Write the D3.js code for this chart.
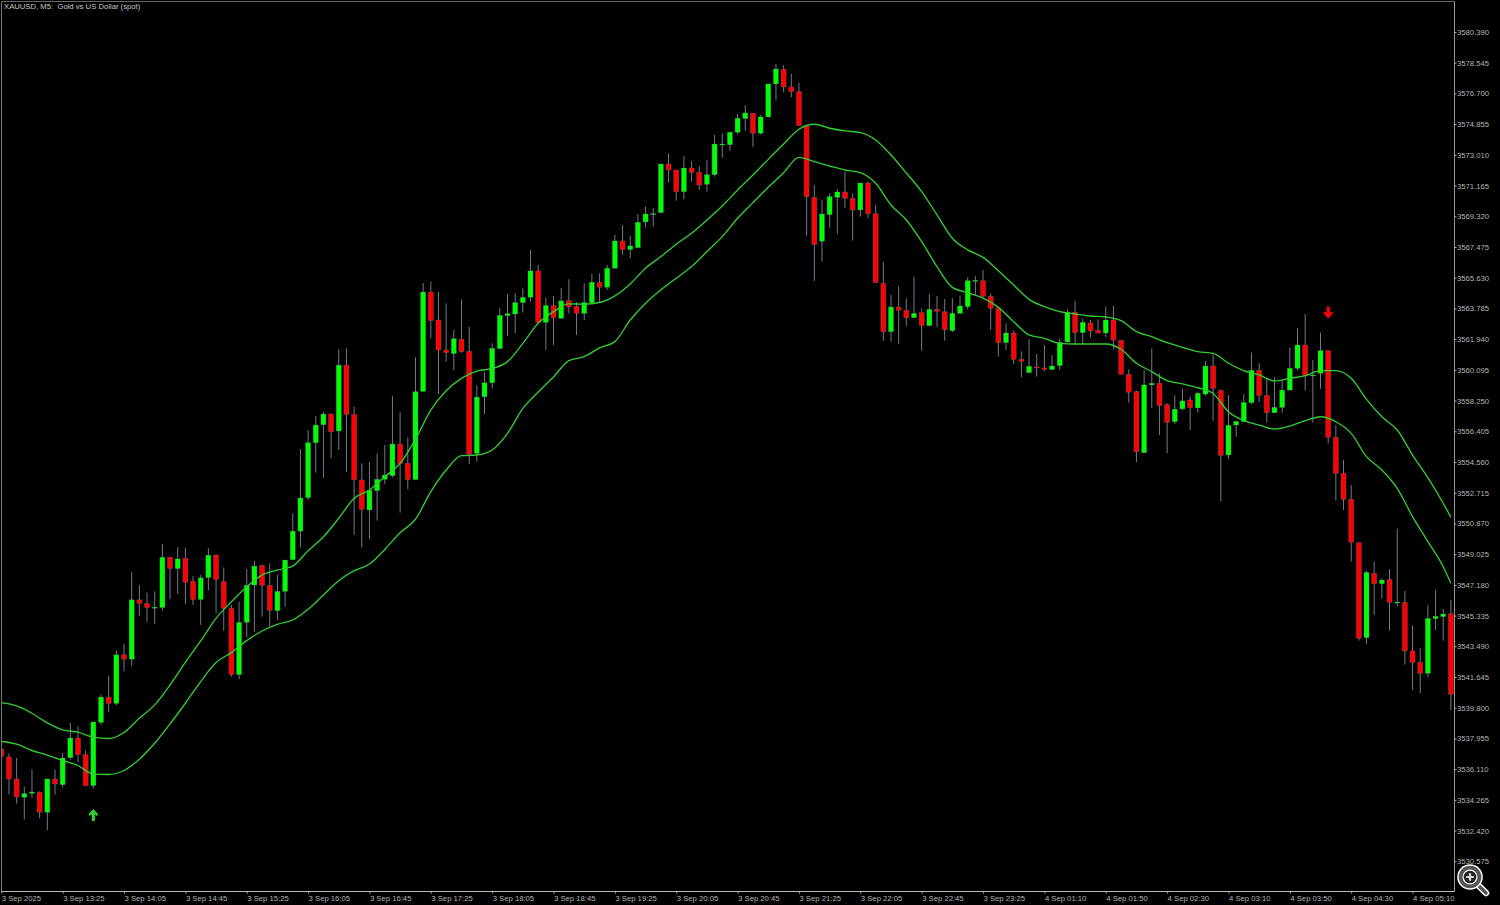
<!DOCTYPE html>
<html>
<head>
<meta charset="utf-8">
<title>XAUUSD M5</title>
<script src="https://cdn.jsdelivr.net/npm/d3@7"></script>
<style>
    html, body { margin: 0; padding: 0; background: #000; overflow: hidden; }
    text { font-family: "Liberation Sans", Arial, sans-serif; font-size: 7.7px; fill: #b4b4b4; white-space: pre; }
    .axis path { display: none; }
    .axis line { stroke: #b0b0b0; }
    .ma { fill: none; stroke: #32cd32; stroke-width: 1.35; }
</style>
</head>
<body>
<div id="chart"></div>
<script>
const chartTitle = "XAUUSD, M5:  Gold vs US Dollar (spot)";

// prices, one entry per 5 minute bar
const opens = [
    3537.32,3536.84,3535.52,3534.42,3534.66,3534.72,3533.52,3535.52,3535.18,3536.80,
    3537.98,3536.98,3535.12,3538.92,3540.44,3540.06,3542.98,3542.72,3546.28,3546.06,
    3545.82,3545.82,3548.84,3548.16,3548.78,3547.40,3546.30,3547.62,3548.97,3547.37,
    3545.77,3541.79,3544.93,3547.17,3548.35,3547.15,3545.63,3546.79,3548.69,3550.41,
    3552.42,3555.72,3556.80,3557.44,3556.42,3560.38,3557.42,3553.48,3551.68,3552.84,
    3553.52,3553.74,3555.64,3554.48,3553.50,3558.80,3564.77,3563.09,3561.29,3561.07,
    3561.93,3561.21,3555.08,3558.48,3559.32,3561.37,3563.35,3563.45,3564.13,3564.46,
    3566.04,3562.95,3563.96,3563.19,3564.26,3563.90,3563.49,3564.12,3565.34,3565.06,
    3566.20,3567.84,3567.32,3567.44,3568.98,3569.46,3569.54,3572.46,3572.10,3570.80,
    3572.22,3571.96,3571.24,3571.82,3573.64,3573.62,3574.37,3575.19,3575.51,3574.31,
    3575.29,3577.27,3578.15,3577.09,3576.81,3574.77,3570.46,3567.82,3569.42,3570.46,
    3570.78,3570.40,3569.70,3571.32,3569.48,3565.29,3562.39,3563.87,3563.67,3563.23,
    3563.53,3562.75,3563.73,3563.59,3562.45,3563.49,3563.89,3565.45,3565.45,3564.51,
    3563.79,3561.73,3562.31,3560.73,3559.93,3560.27,3560.21,3560.11,3560.35,3561.77,
    3563.55,3562.33,3562.91,3562.47,3562.31,3563.09,3561.87,3559.83,3558.79,3555.12,
    3559.19,3559.29,3558.01,3556.98,3557.75,3558.29,3557.81,3558.64,3560.33,3558.86,
    3554.98,3556.78,3556.98,3558.12,3560.07,3558.56,3557.52,3557.84,3558.88,3560.19,
    3561.59,3559.77,3559.89,3561.25,3556.04,3553.88,3552.32,3549.72,3544.01,3547.87,
    3547.25,3547.51,3546.13,3546.13,3543.21,3542.53,3541.87,3545.15,3545.27,3545.45
];
const highs = [
    3537.38,3537.04,3536.78,3535.06,3536.08,3534.78,3535.52,3536.08,3537.08,3538.90,
    3538.68,3537.24,3538.98,3540.58,3541.72,3543.24,3543.64,3547.94,3547.18,3546.72,
    3546.80,3549.64,3548.84,3549.44,3549.40,3547.72,3547.78,3549.38,3549.03,3548.23,
    3545.97,3546.17,3548.13,3548.61,3548.35,3548.47,3547.77,3548.67,3551.48,3555.34,
    3556.48,3557.32,3557.58,3557.48,3561.33,3561.39,3557.88,3554.48,3554.56,3555.08,
    3555.58,3558.52,3557.56,3556.04,3560.85,3565.30,3565.40,3564.77,3564.09,3562.49,
    3564.33,3562.69,3559.16,3559.98,3561.69,3563.79,3564.65,3564.69,3564.99,3567.30,
    3566.40,3564.42,3564.54,3565.00,3565.54,3564.16,3565.30,3565.86,3565.90,3566.40,
    3568.20,3568.80,3568.16,3569.46,3569.90,3569.80,3572.46,3573.10,3572.10,3572.92,
    3572.64,3572.32,3572.70,3574.21,3574.31,3574.37,3575.47,3575.99,3575.51,3575.41,
    3577.27,3578.47,3578.41,3577.87,3577.35,3574.77,3571.20,3570.30,3570.70,3570.94,
    3572.00,3570.70,3571.32,3571.40,3570.00,3566.57,3564.59,3565.13,3564.39,3565.69,
    3563.79,3564.65,3564.53,3564.35,3564.41,3564.53,3565.65,3565.73,3566.09,3564.69,
    3563.85,3562.89,3562.45,3561.21,3561.95,3561.05,3561.59,3560.97,3561.99,3563.73,
    3564.25,3563.19,3563.09,3563.13,3563.89,3563.93,3561.87,3560.13,3558.85,3560.09,
    3561.39,3559.89,3558.09,3558.57,3558.95,3558.49,3558.79,3560.63,3560.99,3558.92,
    3558.58,3557.04,3558.64,3561.13,3560.49,3559.55,3559.65,3559.49,3561.43,3562.59,
    3563.45,3560.69,3562.33,3561.25,3556.78,3554.68,3553.18,3549.72,3548.03,3548.57,
    3547.57,3548.13,3550.56,3546.81,3544.75,3543.37,3545.97,3546.87,3545.73,3546.27
];
const lows = [
    3536.82,3534.58,3534.04,3533.08,3534.40,3533.16,3532.44,3534.58,3535.02,3536.68,
    3536.54,3535.12,3534.96,3538.78,3539.52,3539.96,3541.98,3542.32,3545.32,3544.96,
    3544.84,3545.64,3546.32,3546.64,3546.04,3545.98,3544.78,3546.84,3545.47,3544.43,
    3541.67,3541.51,3544.01,3544.35,3545.27,3544.67,3545.07,3545.87,3548.69,3549.43,
    3552.28,3553.92,3553.60,3554.78,3555.28,3553.96,3550.17,3549.43,3549.93,3551.04,
    3553.24,3553.64,3551.52,3552.92,3553.50,3558.80,3561.99,3558.64,3560.59,3560.08,
    3561.13,3554.44,3554.58,3557.44,3558.98,3561.37,3562.13,3562.29,3563.53,3564.20,
    3562.93,3561.29,3561.59,3563.19,3563.49,3562.19,3563.09,3564.10,3564.14,3564.90,
    3566.20,3567.00,3566.80,3567.40,3568.64,3568.70,3569.54,3571.34,3570.26,3570.34,
    3571.40,3570.90,3570.80,3571.70,3572.84,3573.26,3574.25,3574.45,3573.50,3574.23,
    3575.29,3576.27,3576.75,3576.47,3574.77,3568.16,3565.44,3566.60,3568.64,3568.26,
    3569.80,3567.86,3569.30,3569.20,3565.33,3561.85,3561.79,3561.65,3562.73,3563.23,
    3561.25,3562.75,3562.65,3561.85,3562.37,3563.49,3563.73,3564.59,3564.45,3562.49,
    3560.89,3561.29,3560.45,3559.65,3559.93,3559.69,3560.03,3560.09,3560.09,3561.77,
    3561.59,3561.65,3562.03,3562.29,3562.05,3561.33,3559.83,3558.13,3554.56,3555.12,
    3557.81,3556.18,3555.08,3556.84,3557.69,3556.48,3557.53,3558.54,3557.04,3552.18,
    3554.74,3556.08,3556.98,3558.04,3558.16,3556.92,3557.52,3557.52,3558.88,3560.05,
    3558.84,3556.92,3558.96,3555.68,3552.24,3551.68,3548.57,3543.83,3543.65,3545.37,
    3546.35,3544.43,3545.87,3542.39,3540.87,3540.67,3541.63,3544.47,3543.83,3539.67
];
const closes = [
    3536.88,3535.52,3534.44,3534.64,3534.74,3533.52,3535.52,3535.22,3536.78,3537.98,
    3536.98,3535.12,3538.94,3540.44,3540.06,3542.98,3542.72,3546.28,3546.06,3545.82,
    3545.84,3548.84,3548.16,3548.74,3547.34,3546.30,3547.60,3548.96,3547.51,3545.77,
    3541.79,3544.93,3547.15,3548.31,3547.15,3545.65,3546.79,3548.67,3550.41,3552.40,
    3555.72,3556.78,3557.44,3556.38,3560.38,3557.42,3553.50,3551.72,3552.86,3553.52,
    3553.78,3555.64,3554.46,3553.50,3558.78,3564.77,3563.05,3561.29,3561.13,3561.97,
    3561.19,3555.02,3558.46,3559.32,3561.39,3563.37,3563.47,3564.13,3564.45,3566.04,
    3562.93,3563.96,3563.23,3564.24,3563.88,3563.49,3564.14,3565.36,3565.06,3566.20,
    3567.84,3567.32,3567.54,3568.96,3569.46,3569.48,3572.46,3572.10,3570.80,3572.22,
    3571.96,3571.20,3571.82,3573.66,3573.66,3574.37,3575.21,3575.53,3574.31,3575.29,
    3577.27,3578.17,3577.09,3576.81,3574.77,3570.50,3567.62,3569.46,3570.50,3570.78,
    3570.40,3569.70,3571.32,3569.48,3565.33,3562.39,3563.87,3563.67,3563.23,3563.49,
    3562.75,3563.73,3563.61,3562.51,3563.49,3563.93,3565.45,3565.47,3564.51,3563.79,
    3561.73,3562.31,3560.73,3560.61,3560.31,3560.23,3560.11,3560.33,3561.75,3563.55,
    3562.33,3562.95,3562.43,3562.31,3563.09,3561.89,3559.83,3558.75,3555.18,3559.19,
    3559.29,3557.95,3556.94,3557.73,3558.23,3557.83,3558.69,3560.33,3558.98,3554.96,
    3556.76,3557.00,3558.14,3560.07,3558.56,3557.52,3557.84,3558.88,3560.19,3561.59,
    3559.77,3559.79,3561.25,3556.04,3553.88,3552.32,3549.74,3543.97,3547.93,3547.25,
    3547.47,3546.13,3546.15,3543.21,3542.53,3541.87,3545.17,3545.29,3545.43,3540.61
];

// the two moving average lines, read every second bar plus the last one
const maBars = [
    0,2,4,6,8,10,12,14,16,18,20,22,24,26,28,30,32,34,36,38,40,42,44,46,48,50,52,54,56,58,60,62,
    64,66,68,70,72,74,76,78,80,82,84,86,88,90,92,94,96,98,100,102,104,106,108,110,112,114,116,118,120,122,124,
    126,128,130,132,134,136,138,140,142,144,146,148,150,152,154,156,158,160,162,164,166,168,170,172,174,176,178,180,182,184,186,188,189
];
const maUpper = [
    3540.11,3539.91,3539.47,3538.89,3538.47,3538.33,3538.03,3537.95,3538.31,3539.17,3539.97,3541.17,3542.53,
    3543.81,3545.17,3546.17,3547.07,3547.77,3548.07,3548.31,3549.23,3550.07,3551.18,3552.38,3552.88,3553.68,3554.48,3555.92,3557.68,3558.84,3559.58,3560.02,
    3560.18,3560.59,3561.69,3562.89,3563.59,3564.06,3564.04,3564.14,3564.54,3565.26,3566.20,3566.90,3567.64,3568.30,3569.10,3569.94,3570.90,3571.80,3572.74,3573.66,3574.55,3574.85,3574.61,3574.45,3574.35,3573.90,3573.00,3571.92,3570.80,3569.40,3568.00,
    3567.30,3566.85,3566.05,3565.19,3564.33,3563.89,3563.59,3563.45,3563.33,3563.27,3563.05,3562.39,3562.09,3561.73,3561.45,3561.19,3561.09,3560.49,3560.05,3559.79,3559.43,3559.59,3559.75,3560.05,3560.05,3559.59,3558.32,3557.28,3556.48,3554.98,3553.62,3552.08,3551.24
];
const maLower = [
    3537.77,3537.61,3537.23,3536.95,3536.63,3536.33,3535.81,3535.79,3536.03,3536.71,3537.67,3538.83,3540.07,
    3541.37,3542.51,3543.11,3543.83,3544.41,3544.81,3545.07,3545.71,3546.57,3547.43,3548.03,3548.43,3549.31,3550.31,3551.12,3552.78,3554.08,3554.94,3554.98,
    3555.28,3556.28,3557.78,3558.77,3559.67,3560.65,3560.89,3561.41,3561.79,3563.09,3564.10,3564.90,3565.60,3566.30,3567.20,3568.10,3569.20,3570.14,3571.06,3571.94,3572.86,3572.60,3572.34,3572.10,3571.94,3571.30,3570.00,3569.10,3567.80,3566.29,3565.05,
    3564.73,3564.41,3563.85,3562.99,3562.19,3561.99,3561.69,3561.65,3561.65,3561.65,3561.33,3560.49,3559.99,3559.45,3559.25,3559.02,3558.68,3557.58,3557.04,3556.78,3556.54,3556.72,3557.04,3557.28,3556.98,3556.28,3554.88,3554.08,3552.98,3551.28,3549.78,3548.27,3547.27
];

// buy / sell signal arrows
const arrowBars = [12, 173];
const arrowPrices = [3533.36, 3563.54];
const arrowDirs = ["up", "down"];

// axis labels
const priceTicks = [
    3580.390,3578.545,3576.700,3574.855,3573.010,3571.165,3569.320,3567.475,3565.630,3563.785,
    3561.940,3560.095,3558.250,3556.405,3554.560,3552.715,3550.870,3549.025,3547.180,3545.335,
    3543.490,3541.645,3539.800,3537.955,3536.110,3534.265,3532.420,3530.575
];
const timeTickBars = [0,8,16,24,32,40,48,56,64,72,80,88,96,104,112,120,128,136,144,152,160,168,176,184];
const timeTickLabels = [
    "3 Sep 2025","3 Sep 13:25","3 Sep 14:05","3 Sep 14:45","3 Sep 15:25","3 Sep 16:05",
    "3 Sep 16:45","3 Sep 17:25","3 Sep 18:05","3 Sep 18:45","3 Sep 19:25","3 Sep 20:05",
    "3 Sep 20:45","3 Sep 21:25","3 Sep 22:05","3 Sep 22:45","3 Sep 23:25","4 Sep 01:10",
    "4 Sep 01:50","4 Sep 02:30","4 Sep 03:10","4 Sep 03:50","4 Sep 04:30","4 Sep 05:10"
];

class CandleChart {

    constructor(parentElement){
        this.parentElement = parentElement;
        this.initVis();
    }

    initVis(){
        let vis = this;

        vis.width = 1500;
        vis.height = 905;
        vis.frame = {left: 1.5, top: 1.5, right: 1454.5, bottom: 891.5};

        vis.svg = d3.select("#" + vis.parentElement).append("svg")
            .attr("width", vis.width)
            .attr("height", vis.height)
            .style("display", "block");

        vis.svg.append("clipPath")
            .attr("id", "plot-clip")
            .append("rect")
            .attr("x", vis.frame.left)
            .attr("y", vis.frame.top)
            .attr("width", vis.frame.right - vis.frame.left)
            .attr("height", vis.frame.bottom - vis.frame.top);

        vis.x = d3.scaleLinear().domain([0, 189]).range([1.3, 1450.9]);
        vis.y = d3.scaleLinear().domain([3580.39, 3530.575]).range([32, 861.3]);

        vis.yAxis = d3.axisRight(vis.y)
            .tickValues(priceTicks)
            .tickFormat(d3.format(".3f"))
            .tickSize(2)
            .tickPadding(0.5);

        vis.xAxis = d3.axisBottom(vis.x)
            .tickValues(timeTickBars)
            .tickFormat((d, i) => timeTickLabels[i])
            .tickSize(2)
            .tickPadding(2);

        vis.wrangleData();
    }

    wrangleData(){
        let vis = this;

        vis.bars = opens.map((o, i) => ({
            i: i, open: o, high: highs[i], low: lows[i], close: closes[i]
        }));
        vis.upperLine = maBars.map((b, i) => ({bar: b, value: maUpper[i]}));
        vis.lowerLine = maBars.map((b, i) => ({bar: b, value: maLower[i]}));
        vis.arrows = arrowBars.map((b, i) => ({bar: b, price: arrowPrices[i], dir: arrowDirs[i]}));

        vis.updateVis();
    }

    updateVis(){
        let vis = this;

        let plot = vis.svg.append("g")
            .attr("class", "plot")
            .attr("clip-path", "url(#plot-clip)");

        // wicks first so that the bodies sit on top
        plot.selectAll(".wick")
            .data(vis.bars)
            .join("line")
            .attr("class", "wick")
            .attr("x1", d => vis.x(d.i))
            .attr("x2", d => vis.x(d.i))
            .attr("y1", d => vis.y(d.high))
            .attr("y2", d => vis.y(d.low))
            .attr("stroke", "#6f7b88")
            .attr("stroke-width", 1);

        plot.selectAll(".body")
            .data(vis.bars)
            .join("rect")
            .attr("class", "body")
            .attr("x", d => vis.x(d.i) - 2.5)
            .attr("width", 5)
            .attr("y", d => vis.y(Math.max(d.open, d.close)))
            .attr("height", d => Math.max(1, Math.abs(vis.y(d.open) - vis.y(d.close))))
            .attr("fill", d => d.close >= d.open ? "#00ff00" : "#ff0000")
            .attr("stroke", "#6f7b88")
            .attr("stroke-opacity", 0.55)
            .attr("stroke-width", 0.5);

        let line = d3.line()
            .curve(d3.curveMonotoneX)
            .x(d => vis.x(d.bar))
            .y(d => vis.y(d.value));

        plot.append("path").attr("class", "ma").attr("d", line(vis.upperLine));
        plot.append("path").attr("class", "ma").attr("d", line(vis.lowerLine));

        // signal arrows
        let arrowShape = "M0,-6 L5,-0.6 L3.3,1.1 L1.6,-0.7 L1.6,6 L-1.6,6 L-1.6,-0.7 L-3.3,1.1 L-5,-0.6 Z";
        plot.selectAll(".signal")
            .data(vis.arrows)
            .join("path")
            .attr("class", "signal")
            .attr("d", arrowShape)
            .attr("transform", d => `translate(${vis.x(d.bar)},${vis.y(d.price)}) rotate(${d.dir === "up" ? 0 : 180})`)
            .attr("fill", d => d.dir === "up" ? "#32cd32" : "#ff0000");

        // frame
        let f = vis.frame;
        vis.svg.append("line").attr("x1", f.left).attr("x2", f.right).attr("y1", f.top).attr("y2", f.top).attr("stroke", "#666");
        vis.svg.append("line").attr("x1", f.left).attr("x2", f.left).attr("y1", f.top).attr("y2", f.bottom).attr("stroke", "#777");
        vis.svg.append("line").attr("x1", f.right).attr("x2", f.right).attr("y1", f.top).attr("y2", f.bottom).attr("stroke", "#999");
        vis.svg.append("line").attr("x1", f.left).attr("x2", f.right).attr("y1", f.bottom).attr("y2", f.bottom).attr("stroke", "#bbb");

        // axes
        vis.svg.append("g")
            .attr("class", "y-axis axis")
            .attr("transform", `translate(${f.right},0)`)
            .call(vis.yAxis);

        vis.svg.append("g")
            .attr("class", "x-axis axis")
            .attr("transform", `translate(0,${f.bottom})`)
            .call(vis.xAxis)
            .selectAll("text")
            .attr("text-anchor", "start");

        // title
        vis.svg.append("text")
            .attr("x", 4)
            .attr("y", 9)
            .style("fill", "#c8c8c8")
            .text(chartTitle);

        vis.drawMagnifier();
    }

    drawMagnifier(){
        let vis = this;

        let g = vis.svg.append("g").attr("transform", "translate(1470,877)");

        g.append("line").attr("x1", 9).attr("y1", 9).attr("x2", 16).attr("y2", 16)
            .attr("stroke", "#ffffff").attr("stroke-width", 6.5).attr("stroke-linecap", "round");
        g.append("line").attr("x1", 9).attr("y1", 9).attr("x2", 16).attr("y2", 16)
            .attr("stroke", "#555555").attr("stroke-width", 3.5).attr("stroke-linecap", "round");
        g.append("circle").attr("r", 12.8).attr("fill", "#ffffff");
        g.append("circle").attr("r", 11.3).attr("fill", "#555555");
        g.append("circle").attr("r", 7.5).attr("fill", "#ffffff");
        g.append("circle").attr("r", 6.3).attr("fill", "#222222");
        g.append("path").attr("d", "M-3.8,0 H3.8 M0,-3.8 V3.8")
            .attr("stroke", "#d8d8d8").attr("stroke-width", 2.2);
    }
}

new CandleChart("chart");
</script>
</body>
</html>
